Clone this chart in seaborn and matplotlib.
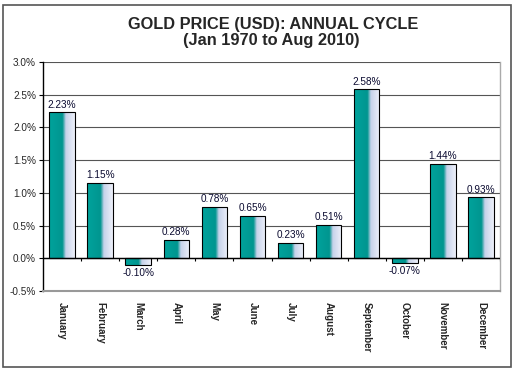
import numpy as np
import pandas as pd
import matplotlib
matplotlib.use("Agg")
import matplotlib.pyplot as plt
import matplotlib.ticker as mticker
from matplotlib.colors import LinearSegmentedColormap
from matplotlib.patches import Rectangle
import seaborn as sns

# ─── Data ─────────────────────────────────────────────────────────────────────
months = ["January", "February", "March", "April", "May", "June", "July",
          "August", "September", "October", "November", "December"]
avg_return = [2.23, 1.15, -0.10, 0.28, 0.78, 0.65, 0.23, 0.51, 2.58, -0.07, 1.44, 0.93]
y_ticks = [-0.5, 0.0, 0.5, 1.0, 1.5, 2.0, 2.5, 3.0]

df = pd.DataFrame({"month": months, "ret": avg_return})

sns.set_theme(style="white")
plt.rcParams["font.family"] = ["Liberation Sans", "DejaVu Sans"]

W, H = 515, 373
fig = plt.figure(figsize=(W / 100, H / 100), dpi=100)
ax = fig.add_axes([43 / W, 1 - 291 / H, (500 - 43) / W, (291 - 62) / H])

sns.barplot(data=df, x="month", y="ret", color="#009C96", width=0.67,
            edgecolor="black", linewidth=0.8, ax=ax, zorder=3)

ax.set_xlim(-0.5, 11.5)
ax.set_ylim(-0.5, 3.0)

# gradient fill: teal on the left, pale lavender on the right
grad = LinearSegmentedColormap.from_list(
    "bar", [(0.0, "#00A39C"), (0.52, "#009690"), (0.58, "#5AAFB8"),
            (0.65, "#C6D2EA"), (1.0, "#EEF1FA")])
g = np.linspace(0, 1, 200).reshape(1, -1)
for p in ax.patches:
    x0, y0 = p.get_x(), p.get_y()
    w, h = p.get_width(), p.get_height()
    im = ax.imshow(g, cmap=grad, aspect="auto", zorder=2.5,
                   extent=[x0, x0 + w, min(y0, y0 + h), max(y0, y0 + h)])
    im.set_clip_path(p)
    p.set_facecolor("none")

ax.set_xlim(-0.5, 11.5)
ax.set_ylim(-0.5, 3.0)

# value labels
for c in ax.containers:
    ax.bar_label(c, labels=[f"{v:.2f}%" for v in avg_return], padding=2,
                 fontsize=7.2, color="#0a0a30")

# grid + axes styling
ax.set_yticks(y_ticks)
ax.yaxis.set_major_formatter(mticker.FuncFormatter(lambda v, _: f"{v:.1f}%"))
ax.grid(axis="y", color="#555555", linewidth=0.8, zorder=0)
ax.set_axisbelow(True)
ax.tick_params(axis="y", which="major", direction="out", length=3, width=0.8,
               color="black", labelsize=7.2, pad=2, left=True)
ax.tick_params(axis="x", length=0, labelsize=7, pad=8)
for lbl in ax.get_xticklabels():
    lbl.set_rotation(-90)
    lbl.set_fontweight("bold")
    lbl.set_va("top")
    lbl.set_ha("center")
ax.set_xlabel("")
ax.set_ylabel("")

ax.spines["top"].set_visible(False)
ax.spines["left"].set_color("black")
ax.spines["left"].set_linewidth(1.0)
ax.spines["bottom"].set_color("#999999")
ax.spines["bottom"].set_linewidth(1.5)
ax.spines["right"].set_color("#aaaaaa")
ax.spines["right"].set_linewidth(1.0)

# category axis crossing at zero, with boundary ticks
ax.axhline(0, color="black", linewidth=1.0, zorder=4)
bounds = np.arange(len(months)) + 0.5
ax.vlines(bounds, -0.04, 0, color="black", linewidth=0.8, zorder=4)

# titles
fig.text(273 / W, 1 - 24 / H, "GOLD PRICE (USD): ANNUAL CYCLE", ha="center",
         va="center", fontsize=11.8, fontweight="bold")
fig.text(271 / W, 1 - 40 / H, "(Jan 1970 to Aug 2010)", ha="center",
         va="center", fontsize=11.8, fontweight="bold")

# outer chart frame
fig.patches.append(Rectangle((3 / W, 1 - 367 / H), 508 / W, 362 / H,
                             transform=fig.transFigure, fill=False,
                             edgecolor="#555555", linewidth=1.2))

fig.savefig("out.png", dpi=100)
